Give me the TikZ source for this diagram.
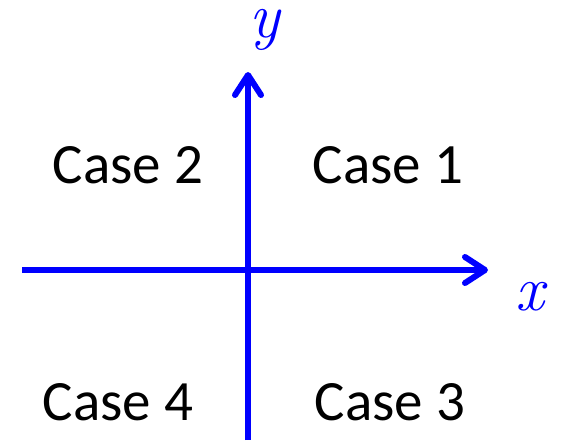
\documentclass[tikz,border=0pt]{standalone}
\usepackage{fontspec}
\setmainfont{Carlito}
\newfontfamily\axisfont{Latin Modern Roman}
\usetikzlibrary{arrows.meta}

\begin{document}
\begin{tikzpicture}[x=1pt, y=-1pt, >={Straight Barb[length=20pt, width=26pt, line cap=round, line join=round]}]
	\useasboundingbox (0,0) rectangle (565,444);
	\tikzset{
		axis/.style={line width=6pt, blue, ->},
		case/.style={font=\fontsize{57}{60}\selectfont, inner sep=0pt},
		axislabel/.style={blue, font=\axisfont\itshape\fontsize{64}{68}\selectfont, inner sep=0pt}
	}
	% axes
	\coordinate (xstart) at (22,270);
	\coordinate (xend) at (488,270);
	\coordinate (ystart) at (248,440);
	\coordinate (yend) at (248,72);
	\draw[axis] (xstart) -- (xend);
	\draw[axis] (ystart) -- (yend);
	\node[axislabel, anchor=base] (xlab) at (530,310) {x};
	\node[axislabel, anchor=base] (ylab) at (265,38) {y};

	% quadrants
	\node[case] (c1) at (388,165) {Case 1};
	\node[case] (c2) at (128,165) {Case 2};
	\node[case] (c3) at (390,402) {Case 3};
	\node[case] (c4) at (118,402) {Case 4};
\end{tikzpicture}
\end{document}
